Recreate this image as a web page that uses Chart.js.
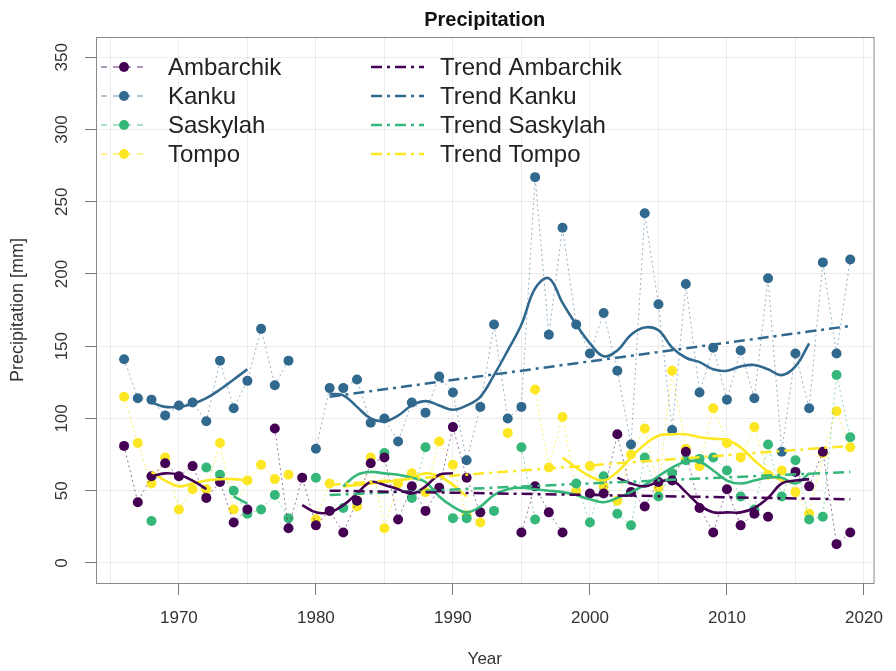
<!DOCTYPE html>
<html>
<head>
<meta charset="utf-8">
<script src="https://cdn.jsdelivr.net/npm/chart.js@4.4.0/dist/chart.umd.min.js"></script>
<style>
html, body { margin: 0; padding: 0; background: #fff; }
#wrap { width: 896px; height: 671px; }
</style>
</head>
<body>
<div id="wrap"><canvas id="chart" width="896" height="671"></canvas></div>
<script>
const years = [1966, 1967, 1968, 1969, 1970, 1971, 1972, 1973, 1974, 1975,
  1976, 1977, 1978, 1979, 1980, 1981, 1982, 1983, 1984, 1985,
  1986, 1987, 1988, 1989, 1990, 1991, 1992, 1993, 1994, 1995,
  1996, 1997, 1998, 1999, 2000, 2001, 2002, 2003, 2004, 2005,
  2006, 2007, 2008, 2009, 2010, 2011, 2012, 2013, 2014, 2015,
  2016, 2017, 2018, 2019];

const stations = ['Ambarchik', 'Kanku', 'Saskylah', 'Tompo'];

// yearly precipitation [mm]
const ambarchik = [81, 42, 60, 69, 60, 67, 45, 56, 28, 37,
  null, 93, 24, 59, 26, 36, 21, 43, 69, 73,
  30, 53, 36, 52, 94, 59, 35, null, null, 21,
  53, 35, 21, null, 48, 48, 89, 49, 39, 56,
  57, 77, 38, 21, 51, 26, 34, 32, null, 63,
  53, 77, 13, 21];
const kanku = [141, 114, 113, 102, 109, 111, 98, 140, 107, 126,
  162, 123, 140, null, 79, 121, 121, 127, 97, 100,
  84, 111, 104, 129, 118, 71, 108, 165, 100, 108,
  267, 158, 232, 165, 145, 173, 133, 82, 242, 179,
  92, 193, 118, 149, 113, 147, 114, 197, 77, 145,
  107, 208, 145, 210];
const saskylah = [null, null, 29, null, null, null, 66, 61, 50, 34,
  37, 47, 31, null, 59, null, 38, 43, null, 76,
  null, 45, 80, null, 31, 31, null, 36, null, 80,
  30, null, null, 55, 28, 60, 34, 26, 73, 46,
  62, 71, 72, 73, 64, 46, 37, 82, 46, 71,
  30, 32, 130, 87];
const tompo = [115, 83, 55, 73, 37, 51, 51, 83, 37, 57,
  68, 58, 61, null, 30, 55, null, 39, 73, 24,
  55, 62, 49, 84, 68, 33, 28, null, 90, null,
  120, 66, 101, 50, 67, 53, 43, 75, 93, 52,
  133, 79, 67, 107, 83, 73, 94, 61, 64, 49,
  34, 76, 105, 80];

// smoothed curves
const ambarchikSmooth = [null, null, 60, 62, 61, 57, 51, null, null, null,
  null, null, null, 40, 35, 35, 40, 48, 56, 54,
  51, 48, 53, 61, 62, null, null, null, null, null,
  null, null, null, null, null, null, 59, 55, 53, 56,
  57, 49, 40, 35, 35, 35, 38, 45, 55, 57,
  58, null, null, null];
const kankuSmooth = [null, null, 111, 108, 108, 110, 114, 120, 127, 134,
  null, null, null, null, null, 117, 116, 108, 100, 98,
  102, 109, 112, 109, 106, 109, 115, 130, 147, 165,
  190, 197, 180, 165, 152, 143, 147, 158, 163, 161,
  149, 142, 139, 134, 133, 136, 137, 134, 130, 136,
  152, null, null, null];
const saskylahSmooth = [null, null, null, null, null, null, null, null, 46, 41,
  null, null, null, null, null, null, 53, 61, 63, 62,
  61, 59, 56, 46, 39, 35, 39, 47, 51, 52,
  51, 50, 49, 47, 44, 42, 45, 49, 54, 60,
  66, 70, 70, 64, 57, 55, 57, 59, 59, 55,
  62, null, null, null];
const tompoSmooth = [null, null, 63, 57, 53, 55, 57, 58, 58, 57,
  null, null, null, null, null, null, 53, 54, 55, 56,
  57, 59, 62, 60, 54, 46, null, null, null, null,
  null, null, 73, 66, 60, 57, 63, 73, 82, 88,
  89, 89, 87, 86, 85, 80, 71, 63, 57, 56,
  null, null, null, null];

// linear trends (start, end)
const trendYears = [1981, 2019];
const trendAmbarchik = [50, 44];
const trendKanku = [115, 164];
const trendSaskylah = [47, 63];
const trendTompo = [54, 81];

const xTicks = [1970, 1980, 1990, 2000, 2010, 2020];
const yTicks = [0, 50, 100, 150, 200, 250, 300, 350];

const colors = ['#440154', '#31688e', '#35b779', '#fde725'];
const lineColors = ['rgba(68,1,84,0.55)', 'rgba(49,104,142,0.5)', 'rgba(53,183,121,0.55)', 'rgba(253,231,37,0.7)'];
const FONT = "'Liberation Sans', Arial, Helvetica, sans-serif";
const TREND_DASH = [11, 5, 3, 5];

Chart.defaults.font.family = FONT;
Chart.defaults.color = '#333';

const toPoints = (vals, xs = years) => xs.map((x, i) => ({ x: x, y: vals[i] }));

const raw = [ambarchik, kanku, saskylah, tompo];
const smooth = [ambarchikSmooth, kankuSmooth, saskylahSmooth, tompoSmooth];
const trends = [trendAmbarchik, trendKanku, trendSaskylah, trendTompo];

const datasets = [];
stations.forEach((name, i) => {
  datasets.push({
    label: 'Trend ' + name,
    data: toPoints(trends[i], trendYears),
    borderColor: colors[i],
    borderWidth: 2.5,
    borderDash: TREND_DASH,
    pointRadius: 0,
    order: 1
  });
  datasets.push({
    label: name + ' smooth',
    data: toPoints(smooth[i]),
    borderColor: colors[i],
    borderWidth: 2.6,
    pointRadius: 0,
    tension: 0.4,
    spanGaps: false,
    order: 2
  });
  datasets.push({
    label: name,
    data: toPoints(raw[i]),
    borderColor: lineColors[i],
    backgroundColor: colors[i],
    borderWidth: 1,
    borderDash: [2, 3],
    pointRadius: 5,
    pointBorderWidth: 0,
    pointBackgroundColor: colors[i],
    spanGaps: false,
    order: 3
  });
});

// frame, title and in-plot legend like the R original
const decorations = {
  id: 'decorations',
  afterDraw(chart) {
    const { ctx, chartArea: a } = chart;
    ctx.save();
    ctx.strokeStyle = '#888';
    ctx.lineWidth = 1;
    ctx.strokeRect(a.left + 0.5, a.top + 0.5, a.right - a.left, a.bottom - a.top);

    ctx.fillStyle = '#111';
    ctx.font = 'bold 20px ' + FONT;
    ctx.textAlign = 'center';
    ctx.textBaseline = 'middle';
    ctx.fillText('Precipitation', (a.left + a.right) / 2, 20);

    ctx.font = '24px ' + FONT;
    ctx.textAlign = 'left';
    stations.forEach((name, i) => {
      const y = 67 + i * 29;
      // dashed line + dot
      ctx.strokeStyle = lineColors[i];
      ctx.lineWidth = 1.5;
      ctx.setLineDash([6, 6]);
      ctx.beginPath();
      ctx.moveTo(101, y);
      ctx.lineTo(148, y);
      ctx.stroke();
      ctx.setLineDash([]);
      ctx.fillStyle = colors[i];
      ctx.beginPath();
      ctx.arc(124, y, 5, 0, Math.PI * 2);
      ctx.fill();
      ctx.fillStyle = '#222';
      ctx.fillText(name, 168, y + 1);

      // trend sample
      ctx.strokeStyle = colors[i];
      ctx.lineWidth = 2.5;
      ctx.setLineDash(TREND_DASH);
      ctx.beginPath();
      ctx.moveTo(371, y);
      ctx.lineTo(424, y);
      ctx.stroke();
      ctx.setLineDash([]);
      ctx.fillStyle = '#222';
      ctx.fillText('Trend ' + name, 440, y + 1);
    });
    ctx.restore();
  }
};

new Chart(document.getElementById('chart'), {
  type: 'line',
  data: { datasets: datasets },
  options: {
    responsive: false,
    animation: false,
    layout: { padding: { top: 37, right: 11, left: 0, bottom: 0 } },
    plugins: {
      legend: { display: false },
      title: { display: false },
      tooltip: { enabled: false }
    },
    scales: {
      x: {
        type: 'linear',
        min: 1963.95,
        max: 2020.7,
        afterFit: s => { s.height = 88; },
        ticks: {
          stepSize: 5,
          includeBounds: false,
          autoSkip: false,
          maxRotation: 0,
          padding: 13,
          font: { size: 17 },
          color: '#333',
          callback: v => (xTicks.includes(v) ? String(v) : '')
        },
        grid: {
          color: 'rgba(0,0,0,0.07)',
          tickLength: 12,
          tickWidth: 1,
          tickColor: c => (c.tick && xTicks.includes(c.tick.value) ? '#777' : 'rgba(0,0,0,0)')
        },
        border: { color: '#888', width: 1 },
        title: {
          display: true,
          text: 'Year',
          font: { size: 17 },
          color: '#333',
          padding: { top: 0, bottom: 1 }
        }
      },
      y: {
        min: -13.9,
        max: 364,
        afterFit: s => { s.width = 96; },
        ticks: {
          stepSize: 50,
          includeBounds: false,
          minRotation: 90,
          maxRotation: 90,
          crossAlign: 'center',
          padding: 9,
          font: { size: 17 },
          color: '#333',
          callback: v => (yTicks.includes(v) ? String(v) : '')
        },
        grid: {
          color: 'rgba(0,0,0,0.07)',
          tickLength: 11,
          tickWidth: 1,
          tickColor: '#777'
        },
        border: { color: '#888', width: 1 },
        title: {
          display: true,
          text: 'Precipitation [mm]',
          font: { size: 18 },
          color: '#333',
          padding: { top: 7, bottom: 0 }
        }
      }
    }
  },
  plugins: [decorations]
});
</script>
</body>
</html>
